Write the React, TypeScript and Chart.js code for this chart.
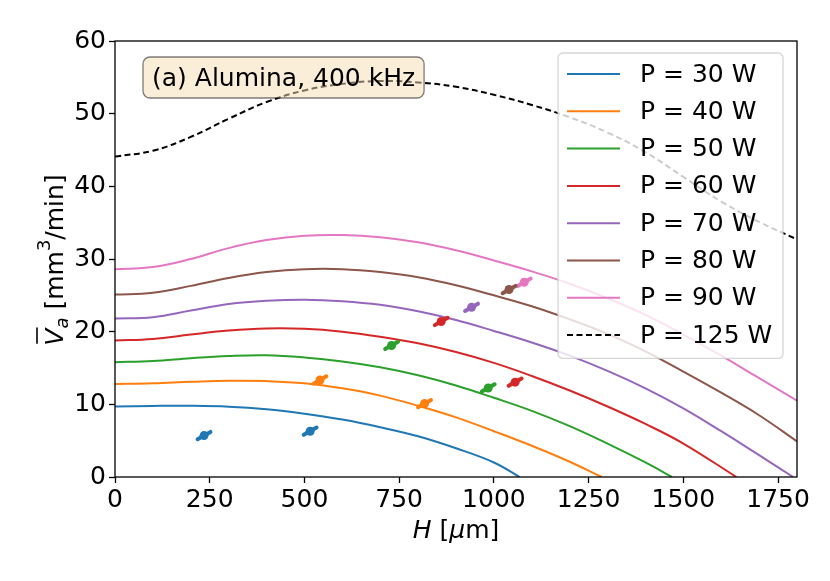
import React, { useEffect, useRef } from 'react'
import { Chart, registerables } from 'chart.js'

Chart.register(...registerables)

// H grid [µm] the model curves are read on
const hGrid = [0, 100, 200, 300, 400, 500, 600, 700, 800, 900, 1000, 1100, 1200, 1300, 1400, 1500, 1600, 1700, 1800]
const xTicks = [0, 250, 500, 750, 1000, 1250, 1500, 1750]

const powers = ['30', '40', '50', '60', '70', '80', '90', '125']
const colors = ['#1f77b4', '#ff7f0e', '#2ca02c', '#d62728', '#9467bd', '#8c564b', '#e377c2', '#000000']

// model curves, V_a [mm3/min]
const p30 = [9.7, 9.78, 9.8, 9.68, 9.32, 8.7, 7.9, 6.85, 5.6, 3.95, 2.0]
const p40 = [12.8, 12.9, 13.1, 13.25, 13.2, 12.9, 12.2, 11.2, 9.8, 8.2, 6.3, 4.3, 2.1]
const p50 = [15.8, 15.95, 16.35, 16.65, 16.75, 16.45, 15.9, 15.1, 14.0, 12.6, 10.9, 9.1, 7.0, 4.6, 2.0]
const p60 = [18.8, 19.0, 19.6, 20.15, 20.45, 20.4, 20.0, 19.3, 18.4, 17.2, 15.7, 13.9, 11.9, 9.7, 7.3, 4.6]
const p70 = [21.8, 22.0, 22.9, 23.8, 24.25, 24.4, 24.2, 23.7, 22.8, 21.6, 20.1, 18.5, 16.7, 14.6, 12.2, 9.45, 6.3, 3.0]
const p80 = [25.1, 25.35, 26.3, 27.4, 28.2, 28.6, 28.6, 28.2, 27.5, 26.4, 25.0, 23.5, 21.7, 19.7, 17.3, 14.5, 11.6, 8.5, 4.9]
const p90 = [28.6, 28.9, 30.0, 31.5, 32.6, 33.2, 33.3, 33.0, 32.3, 31.2, 29.8, 28.3, 26.6, 24.6, 22.3, 19.6, 16.7, 13.6, 10.5]
const p125 = [44.1, 44.9, 46.8, 49.3, 51.6, 53.2, 54.1, 54.5, 54.3, 53.7, 52.6, 51.2, 49.5, 47.4, 44.7, 41.3, 37.9, 35.1, 32.7]
const curves = [p30, p40, p50, p60, p70, p80, p90, p125]
// where a curve reaches V = 0 (null: runs to the edge)
const zeroAt = [1068, 1285, 1470, 1640, 1790, null, null, null]

// measurements (one list per power, 30..90 W)
const measH = [[235, 515], [541, 817], [730, 985], [861, 1056], [941], [1040], [1080]]
const measV = [[5.7, 6.3], [13.35, 10.1], [18.1, 12.25], [21.4, 13.05], [23.35], [25.8], [26.8]]
const errH = 17
const errV = 0.5

const FONT = "'DejaVu Sans', sans-serif"

const overlay = {
  id: 'overlay',
  afterDatasetsDraw(chart: any) {
    const { ctx, chartArea } = chart
    const { left, top, right, bottom } = chartArea
    ctx.save()

    // frame
    ctx.strokeStyle = '#000'
    ctx.lineWidth = 1.3
    ctx.strokeRect(left, top, right - left, bottom - top)

    // annotation box
    ctx.font = `25px ${FONT}`
    const label = '(a) Alumina, 400 kHz'
    const tw = ctx.measureText(label).width
    const bx = left + 28
    const by = top + 16
    ctx.beginPath()
    ctx.roundRect(bx, by, tw + 18, 41, 7)
    ctx.fillStyle = 'rgba(245,222,179,0.5)'
    ctx.fill()
    ctx.strokeStyle = 'rgba(0,0,0,0.5)'
    ctx.lineWidth = 1.3
    ctx.stroke()
    ctx.fillStyle = '#000'
    ctx.textBaseline = 'alphabetic'
    ctx.fillText(label, bx + 9, by + 29)

    // legend
    const lx = right - 239
    const ly = top + 12
    const lw = 225
    const rowH = 37.3
    ctx.beginPath()
    ctx.roundRect(lx, ly, lw, rowH * powers.length + 7, 5)
    ctx.fillStyle = 'rgba(255,255,255,0.8)'
    ctx.fill()
    ctx.strokeStyle = 'rgba(204,204,204,0.8)'
    ctx.lineWidth = 1.3
    ctx.stroke()
    powers.forEach((p, i) => {
      const cy = ly + 21 + i * rowH
      ctx.beginPath()
      ctx.strokeStyle = colors[i]
      ctx.lineWidth = 2
      ctx.setLineDash(i === 7 ? [6, 3.5] : [])
      ctx.moveTo(lx + 9, cy)
      ctx.lineTo(lx + 62, cy)
      ctx.stroke()
      ctx.setLineDash([])
      ctx.fillStyle = '#000'
      ctx.textBaseline = 'middle'
      ctx.fillText(`P = ${p} W`, lx + 82, cy + 1)
    })
    ctx.restore()
  },
  afterDraw(chart: any) {
    const { ctx } = chart
    ctx.save()
    ctx.fillStyle = '#000'
    ctx.strokeStyle = '#000'
    ctx.textBaseline = 'alphabetic'

    // y title: overline V_a [mm^3/min]
    const parts = [
      { t: 'V', f: `italic 25px ${FONT}`, dy: 0 },
      { t: 'a', f: `italic 18px ${FONT}`, dy: 5 },
      { t: ' [mm', f: `25px ${FONT}`, dy: 0 },
      { t: '3', f: `18px ${FONT}`, dy: -13 },
      { t: '/min]', f: `25px ${FONT}`, dy: 0 },
    ]
    const widths = parts.map((p) => {
      ctx.font = p.f
      return ctx.measureText(p.t).width
    })
    const total = widths.reduce((a, b) => a + b, 0)
    ctx.translate(63, 260)
    ctx.rotate(-Math.PI / 2)
    let x = -total / 2
    parts.forEach((p, i) => {
      ctx.font = p.f
      ctx.fillText(p.t, x, p.dy)
      if (i === 0) {
        ctx.lineWidth = 1.6
        ctx.beginPath()
        ctx.moveTo(x + 2, -26)
        ctx.lineTo(x + widths[0] + 1, -26)
        ctx.stroke()
      }
      x += widths[i]
    })
    ctx.setTransform(1, 0, 0, 1, 0, 0)

    // x title: H [µm]
    const xparts = [
      { t: 'H', f: `italic 25px ${FONT}` },
      { t: ' [', f: `25px ${FONT}` },
      { t: 'μ', f: `italic 25px ${FONT}` },
      { t: 'm]', f: `25px ${FONT}` },
    ]
    const xw = xparts.map((p) => {
      ctx.font = p.f
      return ctx.measureText(p.t).width
    })
    const xt = xw.reduce((a, b) => a + b, 0)
    const area = chart.chartArea
    let px = (area.left + area.right) / 2 - xt / 2
    xparts.forEach((p, i) => {
      ctx.font = p.f
      ctx.fillText(p.t, px, 538)
      px += xw[i]
    })
    ctx.restore()
  },
}

const App = () => {
  const chartRef = useRef<HTMLCanvasElement>(null)

  useEffect(() => {
    document.body.style.margin = '0'
    if (!chartRef.current) return
    const ctx = chartRef.current.getContext('2d')
    if (!ctx) return

    const modelSets = curves.map((vals, i) => {
      const pts = vals.map((v, j) => ({ x: hGrid[j], y: v }))
      if (zeroAt[i] !== null) pts.push({ x: zeroAt[i] as number, y: 0 })
      return {
        type: 'line' as const,
        data: pts,
        borderColor: colors[i],
        borderWidth: 2,
        borderDash: i === 7 ? [6, 3.5] : [],
        pointRadius: 0,
        fill: false,
        tension: 0.4,
        order: 2,
      }
    })

    const barSets: any[] = []
    const dotSets: any[] = []
    measH.forEach((hs, i) => {
      hs.forEach((h, j) => {
        const v = measV[i][j]
        barSets.push({
          type: 'line',
          data: [{ x: h - errH, y: v - errV }, { x: h + errH, y: v + errV }],
          borderColor: colors[i],
          borderWidth: 4,
          borderCapStyle: 'round',
          pointRadius: 0,
          fill: false,
          order: 1,
        })
      })
      dotSets.push({
        type: 'scatter',
        data: hs.map((h, j) => ({ x: h, y: measV[i][j] })),
        backgroundColor: colors[i],
        borderWidth: 0,
        pointRadius: 4.5,
        order: 0,
      })
    })

    const tickFont = { family: FONT, size: 25 }

    const chart = new Chart(ctx, {
      type: 'line',
      data: { datasets: [...modelSets, ...barSets, ...dotSets] },
      options: {
        animation: false,
        responsive: false,
        devicePixelRatio: 1,
        layout: { padding: { left: 0, top: 41, right: 33, bottom: 0 } },
        plugins: { legend: { display: false }, tooltip: { enabled: false } },
        scales: {
          x: {
            type: 'linear',
            min: 0,
            max: 1800,
            afterFit: (s: any) => { s.height = 104 },
            afterBuildTicks: (s: any) => { s.ticks = xTicks.map((v) => ({ value: v })) },
            border: { display: false },
            grid: { drawOnChartArea: false, tickLength: 6, tickColor: '#000', tickWidth: 1.3 },
            ticks: {
              autoSkip: false,
              color: '#000',
              font: tickFont,
              padding: 2,
              maxRotation: 0,
              callback: (v: any) => String(v),
            },
          },
          y: {
            type: 'linear',
            min: 0,
            max: 60,
            afterFit: (s: any) => { s.width = 115 },
            border: { display: false },
            grid: { drawOnChartArea: false, tickLength: 6, tickColor: '#000', tickWidth: 1.3 },
            ticks: { stepSize: 10, color: '#000', font: tickFont, padding: 3, callback: (v: any) => String(v) },
          },
        },
      },
      plugins: [overlay],
    })

    return () => {
      chart.destroy()
    }
  }, [])

  return (
    <div style={{ width: 830, height: 581 }}>
      <canvas ref={chartRef} width={830} height={581} />
    </div>
  )
}

export default App
